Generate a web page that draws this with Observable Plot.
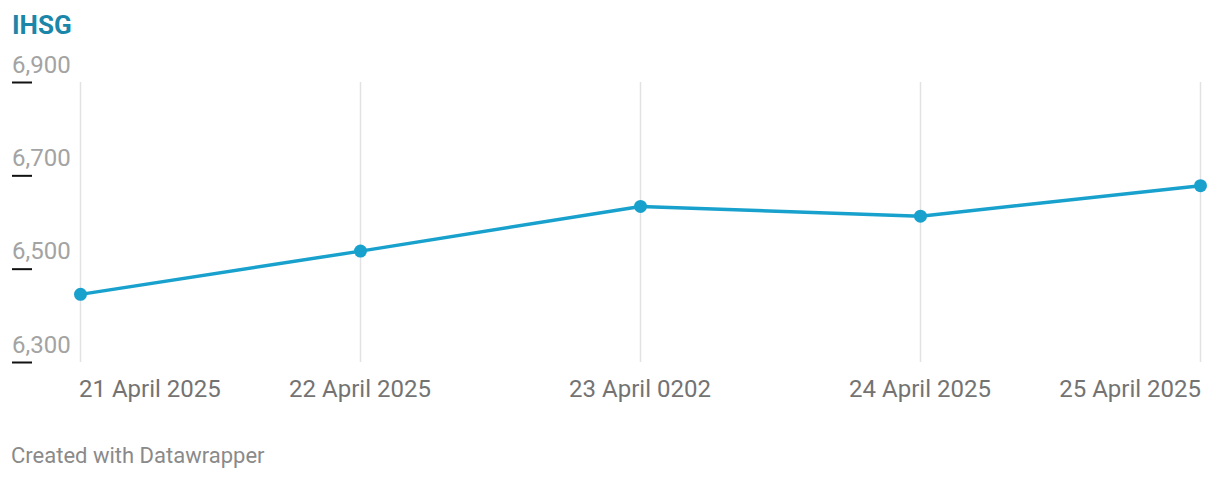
<!DOCTYPE html>
<html>
<head>
<meta charset="utf-8">
<script src="https://cdn.jsdelivr.net/npm/d3@7"></script>
<script src="https://cdn.jsdelivr.net/npm/@observablehq/plot@0.6"></script>
<style>
  html, body { margin: 0; padding: 0; background: #fff; }
  #wrap { position: relative; width: 1220px; height: 478px; overflow: hidden; font-family: Roboto, sans-serif; }
  #title { position: absolute; left: 12px; top: 12px; font-size: 26px; line-height: 26px; font-weight: 700; color: #1b86a8; }
  #chart { position: absolute; left: 0; top: 0; }
  #footer { position: absolute; left: 11px; top: 445px; font-size: 22px; line-height: 22px; color: #8a8a8a; }
</style>
</head>
<body>
<div id="wrap">
  <div id="chart"></div>
  <div id="title">IHSG</div>
  <div id="footer">Created with Datawrapper</div>
</div>
<script>
const categories = ["21 April 2025", "22 April 2025", "23 April 0202", "24 April 2025", "25 April 2025"];
const values = [6446.0, 6538.7, 6634.4, 6613.5, 6678.9];
const yTicks = [6300, 6500, 6700, 6900];
const yTickLabels = ["6,300", "6,500", "6,700", "6,900"];

const data = categories.map((c, i) => ({date: c, value: values[i]}));
const tickData = yTicks.map((v, i) => ({v, label: yTickLabels[i]}));
const lineColor = "#18a1cd";
const first = [categories[0]];
const middle = categories.slice(1, -1);
const last = [categories[categories.length - 1]];

const chart = Plot.plot({
  width: 1220,
  height: 412,
  marginTop: 82,
  marginBottom: 50,
  marginLeft: 79,
  marginRight: 19,
  style: {fontFamily: "Roboto, sans-serif", fontSize: "24px", background: "transparent", overflow: "visible"},
  x: {type: "point", domain: categories, padding: 0, axis: null},
  y: {domain: [6300, 6900]},
  marks: [
    Plot.ruleX(categories, {x: d => d, y1: 6300, y2: 6900, stroke: "#e2e2e2", strokeWidth: 1.5}),
    Plot.axisY(yTicks, {tickSize: 20, dx: -47, stroke: "#111", strokeWidth: 2, tickFormat: () => ""}),
    Plot.text(tickData, {y: "v", text: "label", frameAnchor: "left", textAnchor: "start", lineAnchor: "bottom", dx: -67.5, dy: -10, fill: "#a3a3a3", fontSize: 24}),
    Plot.line(data, {x: "date", y: "value", stroke: lineColor, strokeWidth: 3.5}),
    Plot.dot(data, {x: "date", y: "value", r: 6.5, fill: lineColor, stroke: "none"}),
    Plot.text(first, {x: d => d, y: () => 6300, text: d => d, textAnchor: "start", lineAnchor: "bottom", dx: -1.5, dy: 34.5, fill: "#737373", fontSize: 24}),
    Plot.text(middle, {x: d => d, y: () => 6300, text: d => d, textAnchor: "middle", lineAnchor: "bottom", dx: -0.5, dy: 34.5, fill: "#737373", fontSize: 24}),
    Plot.text(last, {x: d => d, y: () => 6300, text: d => d, textAnchor: "end", lineAnchor: "bottom", dx: 0.5, dy: 34.5, fill: "#737373", fontSize: 24})
  ]
});
document.getElementById("chart").appendChild(chart);
</script>
</body>
</html>
